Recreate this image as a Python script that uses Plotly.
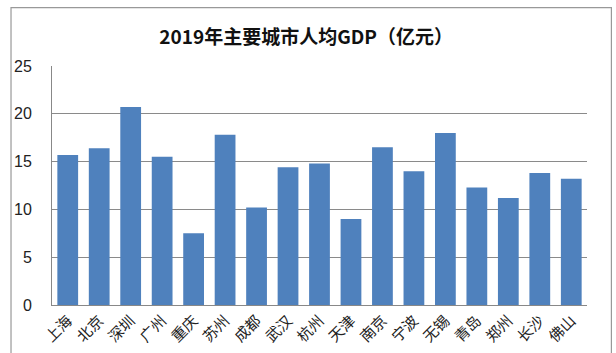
import plotly.graph_objects as go

cities = ["上海", "北京", "深圳", "广州", "重庆", "苏州", "成都", "武汉", "杭州",
          "天津", "南京", "宁波", "无锡", "青岛", "郑州", "长沙", "佛山"]
values = [15.7, 16.4, 20.7, 15.5, 7.5, 17.8, 10.2, 14.4, 14.8,
          9.0, 16.5, 14.0, 18.0, 12.3, 11.2, 13.8, 13.2]
y_ticks = [0, 5, 10, 15, 20, 25]

fig = go.Figure(go.Bar(x=cities, y=values, marker_color="#4f81bd",
                       marker_line_width=0, width=0.66))

fig.update_layout(
    width=616, height=353,
    margin=dict(l=52, r=29, t=66, b=48, autoexpand=False),
    paper_bgcolor="white", plot_bgcolor="white",
    showlegend=False,
    font=dict(family="Noto Sans CJK SC", color="#222"),
    title=dict(text="<b>2019年主要城市人均GDP（亿元）</b>", x=0.497, xanchor="center",
               y=0.893, yanchor="middle", font=dict(size=19, color="#111")),
    shapes=[dict(type="rect", xref="paper", yref="paper", x0=-0.0766, x1=1.0456,
                 y0=-0.3, y1=1.244, line=dict(color="#999", width=1.2))],
)
fig.update_xaxes(tickangle=-45, automargin=False,
                 tickfont=dict(size=15, family="Noto Sans CJK SC", color="#222"),
                 showline=True, linecolor="#888", linewidth=1, ticks="", showgrid=False)
fig.update_yaxes(range=[0, 25], tickvals=y_ticks, showgrid=True, gridcolor="#8a8a8a", gridwidth=1,
                 automargin=False,
                 showline=True, linecolor="#888", linewidth=1, ticks="", ticklabelstandoff=16,
                 tickfont=dict(size=16, family="Liberation Sans", color="#222"), zeroline=False)

fig.write_html("out.html")
